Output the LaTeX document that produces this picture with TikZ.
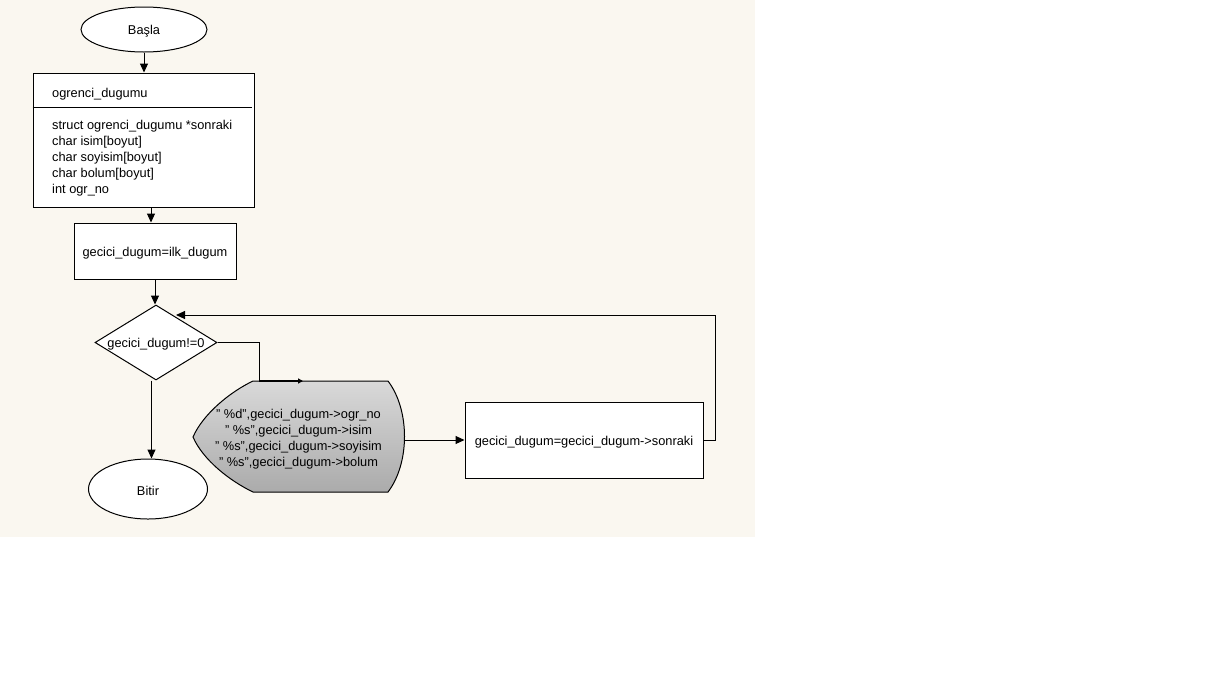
\documentclass[tikz,border=0pt]{standalone}
\usepackage{fontspec}
\setmainfont{Liberation Sans}
\usetikzlibrary{shapes.geometric,arrows.meta,calc}
\definecolor{bgbeige}{RGB}{250,247,240}
\tikzset{
  txt/.style={font=\fontsize{12.8}{16}\selectfont, text=black, inner sep=0pt, yshift=-2pt},
  boxnode/.style={draw=black, line width=1pt, fill=white, rectangle, inner sep=0pt},
  ellnode/.style={draw=black, line width=1pt, fill=white, ellipse, inner sep=0pt},
  conn/.style={draw=black, line width=1pt},
  arr/.style={conn, -{Triangle[length=9pt,width=8pt]}},
}
\begin{document}
\begin{tikzpicture}[x=1pt,y=-1pt]
\useasboundingbox (0,0) rectangle (1215,694);
\fill[white] (0,0) rectangle (1215,694);
\fill[bgbeige] (0,0) rectangle (755,537);

% start
\node[ellnode, minimum width=126pt, minimum height=45pt] (basla) at (144,29.5) {};
\node[txt] (baslatxt) at (basla.center) {Başla};

% struct box
\node[boxnode, minimum width=221pt, minimum height=134pt] (og) at (143.5,140) {};
\draw[conn] (og.west |- 0,107) -- ($(og.east |- 0,107)+(-3,0)$);
\node[txt, anchor=west] (ogtitle) at (52,92) {ogrenci\_dugumu};
\node[txt, anchor=west, align=left] (ogfields) at (52,156)
  {struct ogrenci\_dugumu *sonraki\\char isim[boyut]\\char soyisim[boyut]\\char bolum[boyut]\\int ogr\_no};

% assignment
\node[boxnode, minimum width=162pt, minimum height=56pt] (ilk) at (155,251) {};
\node[txt] (ilktxt) at (ilk.center) {gecici\_dugum=ilk\_dugum};

% decision
\node[diamond, draw=black, line width=1pt, fill=white, minimum width=122pt, minimum height=75pt, inner sep=0pt] (dia) at (156,342.5) {};
\node[txt] (diatxt) at (dia.center) {gecici\_dugum!=0};

% end
\node[ellnode, minimum width=119pt, minimum height=60pt] (bitir) at (148,489) {};
\node[txt] (bitirtxt) at (bitir.center) {Bitir};

% display shape
\path[draw=black, line width=1pt, top color=black!15, bottom color=black!33]
  (253,381) -- (388,381) .. controls (410,410) and (410,463) .. (388,492)
  -- (253,492) .. controls (230,481) and (203,460) .. (193,437)
  .. controls (203,414) and (230,392) .. (253,381) -- cycle;
\node[txt, align=center] (disp) at (298.5,437)
  {" \%d",gecici\_dugum->ogr\_no\\" \%s",gecici\_dugum->isim\\" \%s",gecici\_dugum->soyisim\\" \%s",gecici\_dugum->bolum};
\coordinate (dispE) at (405,440);
\coordinate (dtop) at (259,381);
\coordinate (dtopend) at (303,381);

% next box
\node[boxnode, minimum width=238pt, minimum height=76pt] (son) at (584,440) {};
\node[txt] (sontxt) at (son.center) {gecici\_dugum=gecici\_dugum->sonraki};

\coordinate (loopend) at (176,315);

% connectors
\draw[arr] (basla.south) -- (basla.south |- og.north);
\draw[arr] ($(og.south)+(7.5,0)$) -- ($(ilk.north)+(-4,0)$);
\draw[arr] (ilk.south) -- (ilk.south |- dia.north);
\draw[arr] ($(dia.south)+(-4.5,0)$) -- ($(bitir.north)+(3.5,0)$);
\draw[conn] (dia.east) -| (dtop);
\draw[conn, line width=2pt, -{Triangle[length=5pt,width=5pt]}] (dtop) -- (dtopend);
\draw[arr] (dispE) -- (son.west);
\draw[arr] (son.east) -- ++(12,0) |- (loopend);
\end{tikzpicture}
\end{document}
